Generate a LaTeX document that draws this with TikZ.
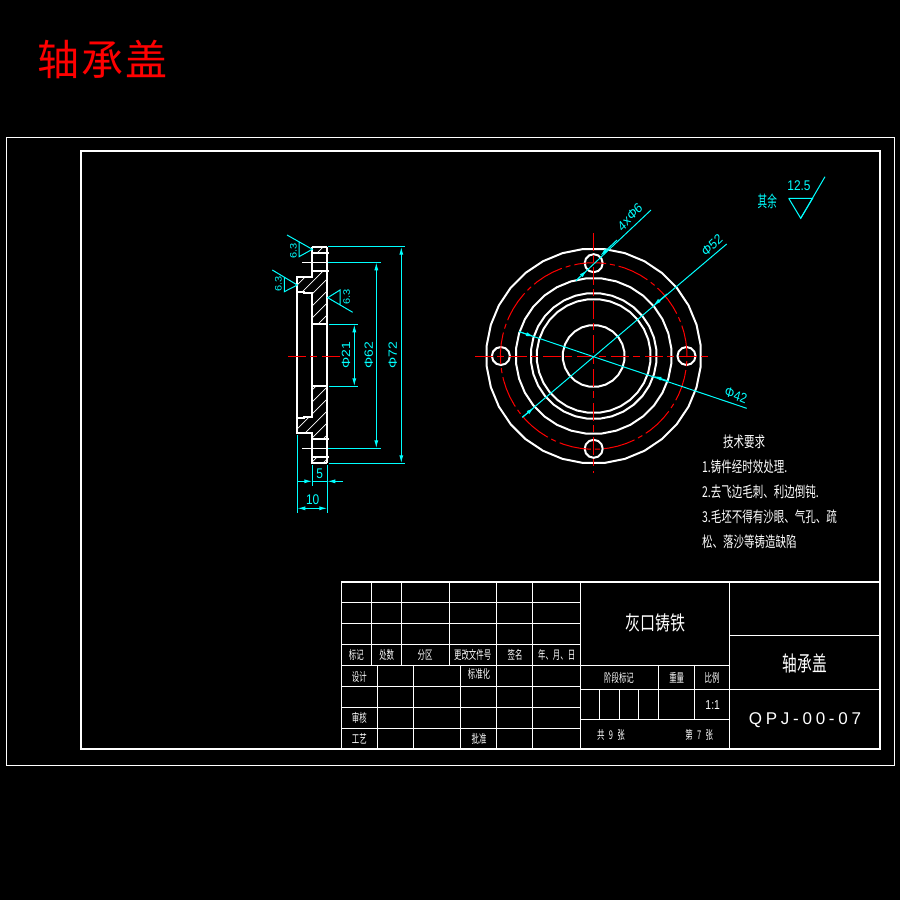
\documentclass[tikz,border=0pt]{standalone}
\usepackage{fontspec}
\setmainfont{Liberation Sans}
\newfontfamily\cjk{Noto Sans CJK SC}
\newfontfamily\widefont[LetterSpace=22]{Liberation Sans}
\usetikzlibrary{arrows.meta}
\definecolor{dimcyan}{RGB}{0,255,255}
\tikzset{
  edge/.style={draw=white, line width=2pt},
  thin edge/.style={draw=white, line width=1pt},
  dimline/.style={draw=dimcyan, line width=1pt},
  dimarrow/.style={dimline, -{Latex[length=8pt,width=4pt]}},
  centerline/.style={draw=red, line width=1pt, dash pattern=on 18pt off 4pt on 7pt off 5pt},
  dimtext/.style={text=dimcyan, font=\fontsize{14}{14}\selectfont, xscale=.85, inner sep=0pt},
  cell/.style={text=white, font=\cjk\fontsize{12}{12}\selectfont, xscale=.62, inner sep=0pt},
  note/.style={text=white, font=\cjk\fontsize{15}{15}\selectfont, xscale=.7, inner sep=0pt, anchor=west},
}
\begin{document}
\begin{tikzpicture}[x=1pt,y=-1pt]
    \fill [black] (0,0) rectangle (900,900);
    \useasboundingbox (0,0) rectangle (900,900);
    \node [text=red, font=\cjk\fontsize{42}{42}\selectfont, inner sep=0pt] (title) at (102.5,59.5) {轴\hspace{2pt}承\hspace{2pt}盖};

    % frames
    \draw [thin edge] (6,137) rectangle (894,765);
    \draw [edge] (81,151) rectangle (880,749);

    % title block
    \draw [edge] (341,582) -- (880,582);
    \draw [thin edge] (341,582) -- (341,749);
    \foreach \y in {602.3,623.3,644.3,665.3,686.3,707.3,728.3} {
        \draw [thin edge] (341,\y) -- (580,\y);
    }
    \foreach \x in {371.7,401.3,449.3} {
        \draw [thin edge] (\x,582) -- (\x,665.3);
    }
    \foreach \x in {377.3,413.3,460.3} {
        \draw [thin edge] (\x,665.3) -- (\x,749);
    }
    \foreach \x in {496.3,532.3,580,729.3} {
        \draw [thin edge] (\x,582) -- (\x,749);
    }
    \draw [thin edge] (580,665.3) -- (729.3,665.3);
    \draw [thin edge] (580,689.3) -- (729.3,689.3);
    \draw [thin edge] (580,719.3) -- (729.3,719.3);
    \draw [thin edge] (729.3,635.3) -- (880,635.3);
    \draw [thin edge] (729.3,689.3) -- (880,689.3);
    \draw [thin edge] (658.3,665.3) -- (658.3,719.3);
    \draw [thin edge] (694.3,665.3) -- (694.3,719.3);
    \foreach \x in {599.3,619.3,638.7} {
        \draw [thin edge] (\x,689.3) -- (\x,719.3);
    }
    \node [cell] (mark) at (356.3,655) {标记};
    \node [cell] (count) at (386.7,655) {处数};
    \node [cell] (zone) at (425,655) {分区};
    \node [cell] (docno) at (472.7,655) {更改文件号};
    \node [cell] (sign) at (515,655) {签名};
    \node [cell] (date) at (556.7,655) {年、月、日};
    \node [cell] (design) at (359.3,676.7) {设计};
    \node [cell] (standard) at (479,674) {标准化};
    \node [cell] (review) at (359.3,717.7) {审核};
    \node [cell] (craft) at (359.3,739) {工艺};
    \node [cell] (approve) at (479,739) {批准};
    \node [cell] (stage) at (619,677.7) {阶段标记};
    \node [cell] (weight) at (676.7,677.7) {重量};
    \node [cell] (ratio) at (712,677.7) {比例};
    \node [text=white, font=\fontsize{13}{13}\selectfont, xscale=.8, inner sep=0pt] (ratioval) at (712.7,705) {1:1};
    \node [cell] (total) at (611,735) {共\hspace{7pt}9\hspace{7pt}张};
    \node [cell] (sheet) at (699.3,735) {第\hspace{7pt}7\hspace{7pt}张};
    \node [text=white, font=\cjk\fontsize{20}{20}\selectfont, xscale=.75, inner sep=0pt] (material) at (655,623.3) {灰口铸铁};
    \node [text=white, font=\cjk\fontsize{21}{21}\selectfont, xscale=.7, inner sep=0pt] (partname) at (805,663.3) {轴承盖};
    \node [text=white, font=\widefont\fontsize{17}{17}\selectfont, inner sep=0pt] (partno) at (805,720) {QPJ-00-07};

    % technical notes
    \node [note] (notehead) at (723,441.7) {技术要求};
    \node [note] (noteone) at (702,466.7) {1.铸件经时效处理.};
    \node [note] (notetwo) at (702,491.7) {2.去飞边毛刺、利边倒钝.};
    \node [note] (notethree) at (702,516.7) {3.毛坯不得有沙眼、气孔、疏};
    \node [note] (notefour) at (702,541.7) {松、落沙等铸造缺陷};

    % remaining roughness
    \node [text=dimcyan, font=\cjk\fontsize{16}{16}\selectfont, xscale=.6, inner sep=0pt] (rest) at (767.3,201.7) {其余};
    \node [dimtext] (restval) at (799,186) {12.5};
    \draw [dimline] (788.7,198.3) -- (812.7,198.3) -- (800.7,218.3) -- (788.7,198.3);
    \draw [dimline] (800.7,218.3) -- (825,176.7);

    % side view, hatching first
    \begin{scope}
        \clip (297,277) -- (312,277) -- (312,271) -- (327,271) -- (327,324) -- (312,324) -- (312,293) -- (297,292) -- cycle
              (297,433) -- (312,433) -- (312,439) -- (327,439) -- (327,386) -- (312,386) -- (312,417) -- (297,417) -- cycle
              (312,247) rectangle (327,253)
              (312,457) rectangle (327,463);
        \foreach \k in {558,570,...,798} {
            \draw [white, line width=.7pt] ({\k-200},200) -- ({\k-500},500);
        }
    \end{scope}
    \draw [edge] (311.7,246.7) -- (327,246.7);
    \draw [edge] (327,246.7) -- (327,462.7);
    \draw [edge] (311.7,246.7) -- (311.7,276.7) -- (296.7,276.7) -- (296.7,432.7) -- (311.7,432.7) -- (311.7,462.7) -- (327,462.7);
    \draw [edge] (296.7,291.7) -- (304.3,291.7) -- (304.3,293) -- (311.7,293) -- (311.7,416.7) -- (304.3,416.7) -- (304.3,417.7) -- (296.7,417.7);
    \draw [edge] (311.7,324) -- (327,324);
    \draw [edge] (311.7,385.7) -- (327,385.7);
    \foreach \y in {252.7,270.7,438.7,456.7} {
        \draw [edge] (311.7,\y) -- (329,\y);
    }
    \draw [thin edge] (302,262.3) -- (328,262.3);
    \draw [thin edge] (302,448.3) -- (328,448.3);
    \draw [centerline] (288,356.7) -- (340,356.7);

    % side view, dimensions
    \draw [dimline] (328,246.7) -- (405,246.7);
    \draw [dimline] (329,463.3) -- (405,463.3);
    \draw [dimline] (328,262.3) -- (380.7,262.3);
    \draw [dimline] (328,448.3) -- (380.7,448.3);
    \draw [dimline] (329,324.3) -- (357.7,324.3);
    \draw [dimline] (329,386.3) -- (357.7,386.3);
    \draw [dimarrow] (401.3,356) -- (401.3,246.7);
    \draw [dimarrow] (401.3,356) -- (401.3,463.3);
    \draw [dimarrow] (376.3,356) -- (376.3,262.3);
    \draw [dimarrow] (376.3,356) -- (376.3,448.3);
    \draw [dimarrow] (354.3,356) -- (354.3,324.3);
    \draw [dimarrow] (354.3,356) -- (354.3,386.3);
    \node [dimtext, rotate=90] (dia21) at (346,355) {Φ21};
    \node [dimtext, rotate=90] (dia62) at (368.7,355) {Φ62};
    \node [dimtext, rotate=90] (dia72) at (392.7,355) {Φ72};
    \draw [dimline] (297.3,435) -- (297.3,512.7);
    \draw [dimline] (327.3,465) -- (327.3,512.7);
    \draw [dimline] (312.3,465) -- (312.3,485.7);
    \draw [dimline] (312.3,481.3) -- (327.3,481.3);
    \draw [dimarrow] (297.3,481.3) -- (312.3,481.3);
    \draw [dimarrow] (342.7,481.3) -- (327.3,481.3);
    \draw [dimarrow] (312.3,508.3) -- (297.3,508.3);
    \draw [dimarrow] (312.3,508.3) -- (327.3,508.3);
    \node [dimtext] (len5) at (319.7,474) {5};
    \node [dimtext] (len10) at (312.7,500) {10};

    % side view, roughness
    \draw [dimline] (287,235) -- (312.3,249.3) -- (299,256.7) -- (299,242.3);
    \draw [dimline] (272.3,270) -- (297.3,285) -- (284.3,291.7) -- (284.3,277.7);
    \draw [dimline] (352.7,312.3) -- (327.7,297.7) -- (340,290) -- (340,304);
    \node [dimtext, rotate=90, font=\fontsize{11}{11}\selectfont] (rougha) at (293.3,251) {6.3};
    \node [dimtext, rotate=90, font=\fontsize{11}{11}\selectfont] (roughb) at (278.3,284.3) {6.3};
    \node [dimtext, rotate=90, font=\fontsize{11}{11}\selectfont] (roughc) at (346.7,297.3) {6.3};

    % front view
    \begin{scope}[shift={(593.7,356)}]
        \draw [edge] plot [samples=33, domain=5.625:365.625] (\x:107.5) -- cycle;
        \foreach \r in {78,63,57} {
            \draw [edge] plot [samples=33, domain=5.625:365.625] (\x:\r) -- cycle;
        }
        \draw [edge] plot [samples=25, domain=7.5:367.5] (\x:31) -- cycle;
        \foreach \a in {0,90,180,270} {
            \draw [edge] plot [samples=13, domain=0:360] ({92.8*cos(\a)+9*cos(\x)},{92.8*sin(\a)+9*sin(\x)}) -- cycle;
        }
        \draw [draw=red, line width=1pt, dash pattern=on 32pt off 4pt on 5pt off 4.1pt] plot [samples=65, domain=-82.3:-442.3] (\x:93.3);
        \draw [centerline] (-118.7,0) -- (115,0);
        \draw [centerline] (0,-123) -- (0,117);
    \end{scope}

    % front view, dimensions
    \draw [dimline] (576,280.7) -- (651,210);
    \draw [dimarrow] (576,280.7) -- (587.1,270.2);
    \draw [dimarrow] (617,240) -- (600.3,255.8);
    \draw [dimline] (522.3,417.3) -- (726.7,244);
    \draw [dimarrow] (522.3,417.3) -- (534.2,407.5);
    \draw [dimarrow] (667,294) -- (653.2,305.6);
    \draw [dimline] (519.3,331.7) -- (746.7,408.3);
    \draw [dimarrow] (519.3,331.7) -- (534,336.7);
    \draw [dimarrow] (668,381) -- (653.4,376.1);
    \node [dimtext, rotate=43] (holes) at (630,217) {4xΦ6};
    \node [dimtext, rotate=40] (dia52) at (712,245.5) {Φ52};
    \node [dimtext, rotate=-18.6] (dia42) at (736,395.5) {Φ42};
\end{tikzpicture}
\end{document}
